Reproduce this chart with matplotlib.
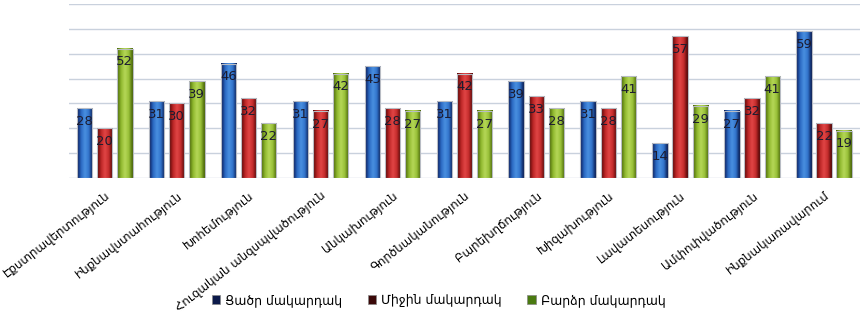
import numpy as np
import matplotlib
matplotlib.use("Agg")
import matplotlib.pyplot as plt
from matplotlib.colors import LinearSegmentedColormap
from matplotlib.patches import Patch

plt.rcParams['font.family'] = ['DejaVu Sans']

categories = ["Էքստրավերտություն", "Ինքնավստահություն", "Խոհեմություն",
              "Հուզական անզսպվածություն", "Անկախություն", "Գործնականություն",
              "Բարեխղճություն", "Խիզախություն", "Լավատեսություն",
              "Ամփոփվածություն", "Ինքնակառավարում"]
series_names = ["Ցածր մակարդակ", "Միջին մակարդակ", "Բարձր մակարդակ"]
low = [28, 31, 46, 31, 45, 31, 39, 31, 14, 27, 59]
mid = [20, 30, 32, 27, 28, 42, 33, 28, 57, 32, 22]
high = [52, 39, 22, 42, 27, 27, 28, 41, 29, 41, 19]

grads = [
    ["#071650", "#2a68c2", "#4a90e0", "#3274cc", "#07184e"],
    ["#500404", "#bc2626", "#e24646", "#c42c2c", "#4a0303"],
    ["#466204", "#8fb82e", "#b6d858", "#98c038", "#445f03"],
]
legend_colors = ["#0c1a4a", "#3a0808", "#4a7a10"]

fig = plt.figure(figsize=(8.6, 3.16), dpi=100)
ax = fig.add_axes([0.080, 0.437, 0.92, 0.55])

x = np.arange(len(categories))
width = 0.215
offs = [-0.28, 0.0, 0.28]
for si, vals in enumerate([low, mid, high]):
    cmap = LinearSegmentedColormap.from_list("g%d" % si, grads[si])
    grad = np.linspace(0, 1, 64).reshape(1, -1)
    bars = ax.bar(x + offs[si], vals, width, facecolor="none",
                  edgecolor="#b8bcc4", linewidth=0.8, zorder=4)
    for b, v in zip(bars, vals):
        x0 = b.get_x()
        ax.imshow(grad, cmap=cmap, extent=(x0, x0 + width, 0, v),
                  aspect="auto", zorder=3, interpolation="bicubic")
        ax.annotate(str(v), (x0 + width / 2, v), xytext=(0, -9.5),
                    textcoords="offset points", ha="center", va="center",
                    fontsize=9.5, color="#1c1c30", zorder=5)

ax.set_xlim(-0.5, len(categories) - 0.5)
ax.set_ylim(0, 70)
ax.set_yticks(np.arange(0, 71, 10))
ax.yaxis.grid(True, color="#c9d1dd", linewidth=1.0, zorder=0)
ax.set_axisbelow(True)
ax.tick_params(axis="y", left=False, labelleft=False)
ax.tick_params(axis="x", length=0, pad=8)
for s in ax.spines.values():
    s.set_visible(False)
ax.set_xticks(x)
ax.set_xticklabels(categories, rotation=38, ha="right",
                   rotation_mode="anchor", fontsize=8.5)

handles = [Patch(facecolor=c, edgecolor="#888888", linewidth=0.5) for c in legend_colors]
fig.legend(handles, series_names, loc="center", bbox_to_anchor=(0.51, 0.05),
           ncol=3, frameon=False, fontsize=9, handlelength=0.7,
           handleheight=0.7, handletextpad=0.4, columnspacing=2.0)

fig.savefig("out.png", dpi=100)
